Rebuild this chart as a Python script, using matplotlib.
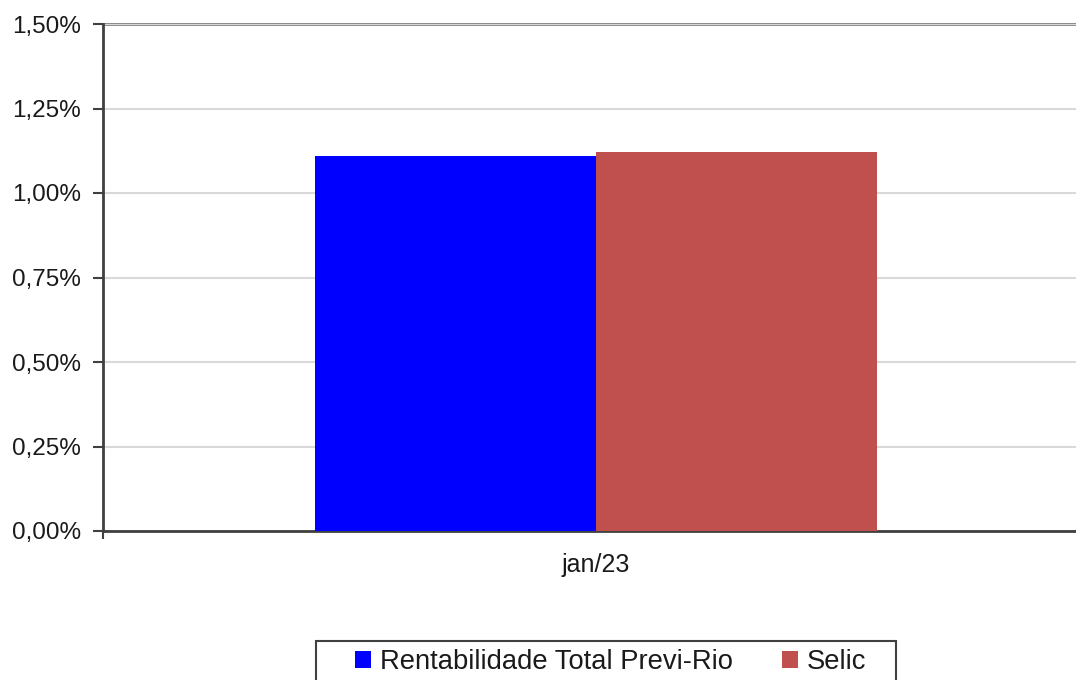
import matplotlib
matplotlib.use("Agg")
import matplotlib.pyplot as plt
from matplotlib.patches import Rectangle
from matplotlib.ticker import FuncFormatter

plt.rcParams['font.family'] = ['Liberation Sans', 'DejaVu Sans']

categories = ["jan/23"]
series_names = ["Rentabilidade Total Previ-Rio", "Selic"]
previ_rio = [1.11]
selic = [1.12]
colors = ["#0000FF", "#C0504D"]

W, H = 1076, 680
fig = plt.figure(figsize=(W/100, H/100), dpi=100)
# axes runs past the right edge of the picture, like the original
ax = fig.add_axes([103/W, 1 - 531/H, 986/W, 507/H])

bw = 0.285
x = range(len(categories))
ax.bar([i - bw/2 for i in x], previ_rio, width=bw, color=colors[0], label=series_names[0], zorder=3)
ax.bar([i + bw/2 for i in x], selic, width=bw, color=colors[1], label=series_names[1], zorder=3)

ax.set_xlim(-0.5, len(categories) - 0.5)
ax.set_ylim(0, 1.5)
ax.set_yticks([0, 0.25, 0.5, 0.75, 1.0, 1.25, 1.5])
ax.yaxis.set_major_formatter(FuncFormatter(lambda v, p: f"{v:.2f}%".replace(".", ",")))
ax.grid(axis="y", color="#D9D9D9", linewidth=1.5, zorder=0)
ax.axhline(1.5, color="#808080", linewidth=2, zorder=1, clip_on=False)

# category boundary ticks, labels centred between them
ax.set_xticks([i - 0.5 for i in range(len(categories) + 1)])
ax.set_xticklabels([])
ax.set_xticks(list(x), minor=True)
ax.set_xticklabels(categories, minor=True)
ax.tick_params(axis="x", which="minor", length=0, pad=16, labelsize=18, labelcolor="#1a1a1a")
ax.tick_params(axis="x", which="major", length=6, width=1.5, color="#404040")
ax.tick_params(axis="y", length=7, width=1.5, color="#404040", labelsize=17.5, pad=9,
               labelcolor="#1a1a1a")

for s in ["top", "right"]:
    ax.spines[s].set_visible(False)
for s in ["left", "bottom"]:
    ax.spines[s].set_color("#404040")
    ax.spines[s].set_linewidth(2)

# legend frame (cut off by the bottom edge in the original)
fig.patches.append(Rectangle((316/W, -0.05), 580/W, 0.05 + 1 - 641/H, transform=fig.transFigure,
                             facecolor="white", edgecolor="#404040", linewidth=1.5))
leg = fig.legend(loc="center left", bbox_to_anchor=(355/W, 1 - 662/H), ncol=2,
                 fontsize=19.7, frameon=False, handlelength=0.6, handleheight=0.6,
                 handletextpad=0.3, columnspacing=1.8, borderpad=0, borderaxespad=0)
for t in leg.get_texts():
    t.set_color("#1a1a1a")

fig.savefig("out.png", dpi=100)
